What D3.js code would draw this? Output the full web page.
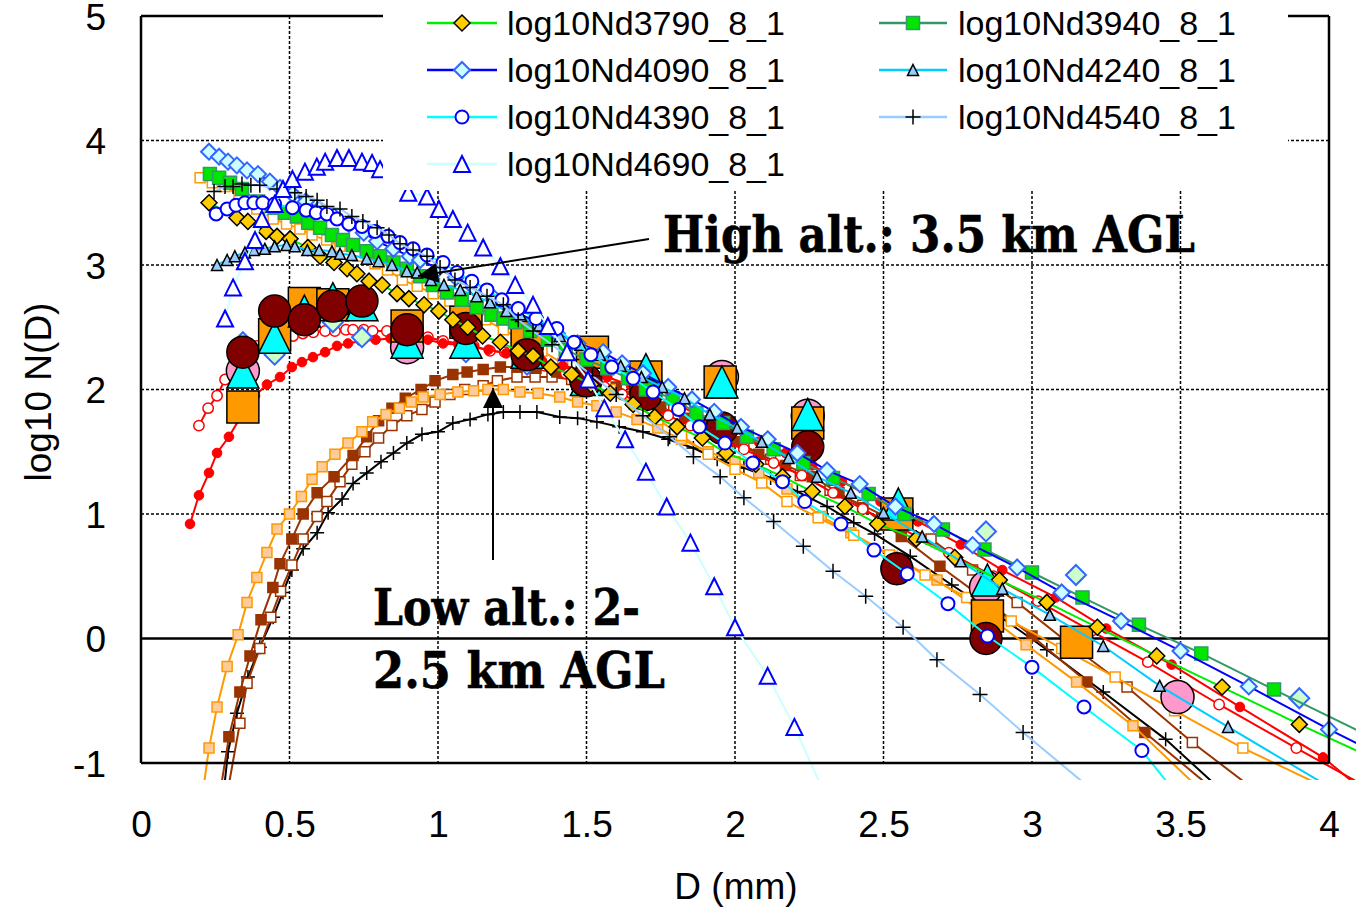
<!DOCTYPE html>
<html><head><meta charset="utf-8">
<script src="https://cdn.jsdelivr.net/npm/d3@7"></script>
<style>body{margin:0;background:#fff} svg{display:block}</style>
</head><body>
<svg id="c" width="1356" height="910"></svg>
<script>
// ---------- DATA ----------
const xTicks = [0, 0.5, 1, 1.5, 2, 2.5, 3, 3.5, 4];
const yTicks = [-1, 0, 1, 2, 3, 4, 5];
const legendNames = ["log10Nd3790_8_1","log10Nd3940_8_1","log10Nd4090_8_1","log10Nd4240_8_1","log10Nd4390_8_1","log10Nd4540_8_1","log10Nd4690_8_1"];

const s3790 = [[0.229,3.50],[0.323,3.38],[0.36,3.35],[0.421,3.27],[0.458,3.23],[0.502,3.21],[0.562,3.14],[0.603,3.07],[0.65,3.02],[0.694,2.97],[0.727,2.93],[0.768,2.87],[0.812,2.84],[0.862,2.77],[0.902,2.73],[0.953,2.68],[1.003,2.63],[1.05,2.56],[1.10,2.50],[1.15,2.43],[1.21,2.38],[1.27,2.31],[1.32,2.27],[1.38,2.18],[1.45,2.12],[1.515,2.04],[1.58,1.97],[1.657,1.88],[1.73,1.78],[1.805,1.70],[1.89,1.61],[1.97,1.49],[2.07,1.40],[2.16,1.30],[2.26,1.18],[2.37,1.06],[2.48,0.92],[2.61,0.80],[2.74,0.65],[2.89,0.47],[3.05,0.29],[3.22,0.09],[3.42,-0.14],[3.64,-0.39],[3.90,-0.69],[4.45,-1.29]];
const s3940 = [[0.232,3.73],[0.263,3.70],[0.30,3.66],[0.34,3.61],[0.394,3.51],[0.44,3.46],[0.485,3.42],[0.525,3.39],[0.563,3.34],[0.603,3.30],[0.643,3.24],[0.68,3.20],[0.714,3.16],[0.76,3.11],[0.805,3.07],[0.85,3.02],[0.895,2.97],[0.94,2.91],[0.983,2.84],[1.03,2.78],[1.08,2.72],[1.13,2.66],[1.18,2.60],[1.22,2.57],[1.26,2.54],[1.31,2.47],[1.37,2.40],[1.43,2.32],[1.50,2.24],[1.57,2.17],[1.64,2.09],[1.70,2.00],[1.79,1.93],[1.87,1.81],[1.96,1.73],[2.04,1.62],[2.13,1.52],[2.23,1.41],[2.33,1.29],[2.45,1.16],[2.57,1.00],[2.70,0.875],[2.84,0.715],[3.00,0.53],[3.17,0.33],[3.36,0.11],[3.57,-0.12],[3.815,-0.41],[4.57,-1.29]];
const s4090 = [[0.229,3.91],[0.263,3.87],[0.293,3.83],[0.323,3.80],[0.357,3.76],[0.394,3.73],[0.434,3.67],[0.468,3.62],[0.51,3.57],[0.555,3.51],[0.60,3.45],[0.65,3.39],[0.70,3.33],[0.75,3.26],[0.795,3.19],[0.85,3.13],[0.905,3.07],[0.94,3.04],[1.00,2.97],[1.06,2.90],[1.12,2.82],[1.19,2.73],[1.26,2.63],[1.33,2.54],[1.40,2.45],[1.47,2.37],[1.556,2.30],[1.62,2.21],[1.69,2.13],[1.775,2.02],[1.855,1.92],[1.93,1.82],[2.02,1.70],[2.11,1.60],[2.21,1.49],[2.31,1.35],[2.42,1.24],[2.54,1.06],[2.67,0.92],[2.80,0.75],[2.95,0.57],[3.10,0.37],[3.30,0.14],[3.50,-0.10],[3.73,-0.385],[4.00,-0.73],[4.47,-1.29]];
const s4240 = [[0.256,3.00],[0.29,3.04],[0.316,3.07],[0.35,3.10],[0.38,3.12],[0.417,3.13],[0.45,3.15],[0.49,3.16],[0.518,3.15],[0.56,3.12],[0.60,3.12],[0.643,3.11],[0.67,3.09],[0.71,3.08],[0.76,3.05],[0.80,3.03],[0.845,3.00],[0.895,2.95],[0.93,2.94],[0.976,2.88],[1.02,2.84],[1.075,2.80],[1.13,2.75],[1.175,2.70],[1.23,2.63],[1.28,2.59],[1.34,2.51],[1.41,2.43],[1.48,2.36],[1.545,2.28],[1.615,2.19],[1.685,2.10],[1.755,2.02],[1.83,1.93],[1.915,1.80],[2.007,1.69],[2.09,1.58],[2.18,1.45],[2.276,1.30],[2.39,1.17],[2.50,1.01],[2.63,0.82],[2.76,0.62],[2.90,0.40],[3.06,0.19],[3.24,-0.06],[3.43,-0.38],[3.66,-0.71],[4.07,-1.29]];
const s4390 = [[0.253,3.41],[0.29,3.45],[0.32,3.48],[0.35,3.50],[0.38,3.50],[0.41,3.50],[0.45,3.49],[0.51,3.46],[0.556,3.44],[0.59,3.42],[0.626,3.41],[0.66,3.37],[0.70,3.33],[0.744,3.31],[0.788,3.27],[0.832,3.23],[0.872,3.18],[0.916,3.13],[0.963,3.08],[1.017,3.02],[1.064,2.94],[1.114,2.87],[1.165,2.80],[1.215,2.72],[1.27,2.65],[1.33,2.57],[1.40,2.49],[1.458,2.38],[1.515,2.28],[1.585,2.18],[1.657,2.09],[1.724,1.98],[1.81,1.84],[1.88,1.70],[1.966,1.57],[2.06,1.41],[2.16,1.26],[2.235,1.10],[2.357,0.92],[2.468,0.71],[2.58,0.52],[2.717,0.28],[2.85,0.02],[3.00,-0.23],[3.175,-0.55],[3.37,-0.90],[3.50,-1.29]];
const s4540 = [[0.246,3.59],[0.283,3.63],[0.31,3.63],[0.34,3.65],[0.37,3.64],[0.40,3.64],[0.458,3.61],[0.518,3.58],[0.556,3.55],[0.593,3.52],[0.626,3.47],[0.67,3.45],[0.71,3.39],[0.747,3.35],[0.795,3.30],[0.835,3.24],[0.872,3.17],[0.916,3.12],[0.963,3.07],[1.007,2.98],[1.057,2.88],[1.108,2.82],[1.165,2.75],[1.22,2.68],[1.27,2.56],[1.32,2.47],[1.384,2.36],[1.45,2.24],[1.52,2.11],[1.60,1.96],[1.69,1.79],[1.78,1.62],[1.86,1.46],[1.95,1.30],[2.03,1.13],[2.13,0.94],[2.23,0.74],[2.33,0.54],[2.44,0.34],[2.566,0.09],[2.68,-0.17],[2.825,-0.45],[2.97,-0.755],[3.24,-1.29]];
const s4690 = [[0.283,2.57],[0.31,2.82],[0.35,3.03],[0.384,3.20],[0.407,3.37],[0.45,3.49],[0.478,3.61],[0.51,3.69],[0.552,3.75],[0.592,3.79],[0.62,3.83],[0.66,3.86],[0.70,3.86],[0.744,3.83],[0.778,3.82],[0.805,3.77],[0.85,3.68],[0.90,3.58],[0.963,3.55],[1.003,3.45],[1.05,3.37],[1.10,3.26],[1.152,3.14],[1.21,2.99],[1.26,2.84],[1.32,2.68],[1.37,2.51],[1.434,2.30],[1.505,2.08],[1.56,1.85],[1.63,1.60],[1.70,1.34],[1.77,1.06],[1.85,0.77],[1.93,0.42],[2.00,0.09],[2.11,-0.30],[2.20,-0.71],[2.31,-1.29]];

const sRedFilled = [[0.165,0.92],[0.195,1.15],[0.229,1.33],[0.256,1.49],[0.296,1.62],[0.343,1.81],[0.384,1.95],[0.424,2.04],[0.468,2.10],[0.508,2.18],[0.542,2.22],[0.579,2.26],[0.62,2.30],[0.66,2.35],[0.697,2.37],[0.74,2.39],[0.79,2.40],[0.84,2.41],[0.89,2.41],[0.93,2.41],[0.966,2.40],[1.017,2.37],[1.07,2.36],[1.12,2.34],[1.17,2.32],[1.23,2.29],[1.29,2.26],[1.35,2.23],[1.42,2.19],[1.50,2.15],[1.57,2.10],[1.65,2.03],[1.73,1.95],[1.82,1.86],[1.91,1.76],[2.00,1.67],[2.08,1.58],[2.17,1.49],[2.26,1.39],[2.36,1.26],[2.49,1.10],[2.616,0.94],[2.76,0.755],[2.90,0.55],[3.08,0.33],[3.25,0.08],[3.47,-0.21],[3.70,-0.55],[3.98,-0.955],[4.15,-1.29]];
const sRedOpen = [[0.195,1.71],[0.226,1.85],[0.256,1.95],[0.283,2.08],[0.316,2.22],[0.35,2.30],[0.39,2.35],[0.44,2.38],[0.48,2.41],[0.512,2.43],[0.545,2.45],[0.58,2.46],[0.62,2.47],[0.653,2.47],[0.69,2.48],[0.714,2.48],[0.75,2.48],[0.78,2.47],[0.828,2.47],[0.87,2.45],[0.92,2.43],[0.966,2.42],[1.017,2.39],[1.07,2.37],[1.12,2.35],[1.175,2.31],[1.225,2.30],[1.29,2.25],[1.36,2.19],[1.43,2.13],[1.50,2.07],[1.56,2.02],[1.62,1.96],[1.70,1.87],[1.775,1.79],[1.85,1.71],[1.94,1.62],[2.03,1.52],[2.13,1.41],[2.225,1.31],[2.33,1.17],[2.43,1.04],[2.53,0.92],[2.62,0.81],[2.72,0.69],[2.87,0.50],[3.02,0.30],[3.20,0.06],[3.39,-0.19],[3.63,-0.53],[3.89,-0.88],[4.20,-1.29]];
const sOrangeOpen = [[0.199,3.70],[0.24,3.66],[0.283,3.63],[0.33,3.56],[0.39,3.45],[0.445,3.37],[0.49,3.33],[0.535,3.29],[0.576,3.24],[0.625,3.20],[0.67,3.15],[0.73,3.07],[0.788,3.01],[0.83,2.96],[0.88,2.88],[0.93,2.83],[0.983,2.77],[1.04,2.71],[1.10,2.64],[1.16,2.56],[1.22,2.48],[1.28,2.40],[1.35,2.31],[1.42,2.21],[1.50,2.10],[1.58,2.00],[1.66,1.88],[1.74,1.76],[1.82,1.63],[1.91,1.48],[2.00,1.36],[2.09,1.25],[2.175,1.10],[2.28,0.97],[2.40,0.83],[2.52,0.67],[2.64,0.51],[2.78,0.33],[2.93,0.14],[3.10,-0.08],[3.28,-0.31],[3.48,-0.58],[3.71,-0.88],[4.07,-1.29]];
const sOrangeLight = [[0.205,-1.29],[0.229,-0.88],[0.256,-0.55],[0.29,-0.225],[0.327,0.03],[0.357,0.29],[0.39,0.49],[0.424,0.69],[0.458,0.88],[0.50,1.00],[0.54,1.14],[0.576,1.28],[0.61,1.38],[0.653,1.48],[0.697,1.57],[0.744,1.66],[0.78,1.74],[0.825,1.80],[0.87,1.85],[0.91,1.90],[0.95,1.94],[1.007,1.96],[1.067,1.98],[1.12,1.99],[1.168,2.00],[1.22,2.00],[1.276,1.98],[1.337,1.97],[1.41,1.94],[1.47,1.90],[1.535,1.87],[1.60,1.82],[1.67,1.76],[1.74,1.69],[1.82,1.60],[1.91,1.50],[2.00,1.42],[2.08,1.33],[2.175,1.20],[2.29,0.98],[2.39,0.85],[2.53,0.66],[2.68,0.47],[2.83,0.22],[2.98,-0.05],[3.15,-0.35],[3.34,-0.70],[3.60,-1.29]];
const sBrownFilled = [[0.263,-1.29],[0.296,-0.79],[0.333,-0.43],[0.367,-0.14],[0.404,0.15],[0.444,0.41],[0.468,0.60],[0.508,0.80],[0.546,1.00],[0.593,1.17],[0.65,1.30],[0.714,1.47],[0.76,1.62],[0.80,1.75],[0.845,1.85],[0.89,1.93],[0.943,2.00],[0.99,2.07],[1.05,2.12],[1.098,2.14],[1.152,2.16],[1.21,2.18],[1.266,2.18],[1.33,2.17],[1.40,2.14],[1.46,2.10],[1.53,2.06],[1.60,2.02],[1.67,1.95],[1.75,1.86],[1.83,1.77],[1.91,1.68],[2.00,1.58],[2.08,1.48],[2.17,1.39],[2.26,1.30],[2.35,1.17],[2.43,1.05],[2.56,0.82],[2.69,0.58],[2.85,0.30],[3.00,0.02],[3.185,-0.35],[3.38,-0.755],[3.65,-1.29]];
const sBrownOpen = [[0.287,-1.29],[0.333,-0.68],[0.357,-0.36],[0.40,-0.08],[0.437,0.17],[0.47,0.38],[0.508,0.59],[0.546,0.80],[0.593,0.98],[0.626,1.10],[0.67,1.26],[0.71,1.40],[0.754,1.50],[0.80,1.61],[0.845,1.71],[0.895,1.79],[0.946,1.84],[0.99,1.90],[1.04,1.96],[1.09,2.00],[1.152,2.03],[1.20,2.07],[1.266,2.10],[1.327,2.10],[1.384,2.10],[1.45,2.08],[1.52,2.05],[1.60,2.00],[1.68,1.93],[1.76,1.85],[1.85,1.76],[1.94,1.66],[2.03,1.55],[2.12,1.44],[2.22,1.31],[2.32,1.19],[2.43,1.07],[2.54,0.94],[2.66,0.80],[2.80,0.55],[2.95,0.29],[3.13,-0.05],[3.32,-0.39],[3.54,-0.835],[3.79,-1.29]];
const sBlackPlus = [[0.276,-1.29],[0.293,-0.91],[0.323,-0.60],[0.36,-0.31],[0.40,-0.07],[0.445,0.17],[0.478,0.37],[0.508,0.55],[0.546,0.72],[0.593,0.85],[0.63,1.01],[0.677,1.12],[0.714,1.245],[0.76,1.33],[0.808,1.42],[0.85,1.49],[0.895,1.57],[0.946,1.64],[1.00,1.66],[1.05,1.73],[1.108,1.76],[1.168,1.80],[1.22,1.82],[1.276,1.82],[1.333,1.82],[1.41,1.78],[1.47,1.77],[1.535,1.74],[1.61,1.70],[1.69,1.66],[1.775,1.60],[1.86,1.53],[1.94,1.44],[2.03,1.37],[2.12,1.29],[2.21,1.18],[2.31,1.06],[2.40,0.93],[2.47,0.84],[2.59,0.66],[2.73,0.43],[2.89,0.18],[3.05,-0.09],[3.24,-0.43],[3.45,-0.81],[3.67,-1.29]];

const bigGreen = [[0.343,2.38],[0.45,2.28],[0.646,2.54],[0.744,2.42],[0.896,2.34],[1.094,2.30],[1.30,2.20],[2.845,0.86],[3.148,0.51],[3.90,-0.48]];
const bigPink = [[0.343,2.15],[0.896,2.34],[1.956,2.10],[2.245,1.79],[2.545,1.00],[2.845,0.41],[3.49,-0.47]];
const bigOrange = [[0.343,1.86],[0.45,2.44],[0.55,2.69],[0.646,2.68],[0.896,2.51],[1.094,2.54],[1.30,2.45],[1.52,2.30],[1.70,2.10],[1.95,2.06],[2.245,1.73],[2.545,1.00],[2.85,0.18],[3.15,-0.03]];
const bigCyan = [[0.343,2.14],[0.45,2.42],[0.55,2.63],[0.646,2.73],[0.744,2.68],[0.896,2.38],[1.094,2.38],[1.30,2.30],[1.50,2.08],[1.70,2.16],[1.956,2.06],[2.245,1.80],[2.55,1.08],[2.85,0.47]];
const bigDarkRed = [[0.343,2.30],[0.45,2.63],[0.55,2.56],[0.646,2.67],[0.744,2.71],[0.896,2.48],[1.094,2.49],[1.30,2.28],[1.498,2.07],[1.70,1.96],[1.956,1.69],[2.245,1.54],[2.545,0.56],[2.845,0.00]];

// ---------- STYLES ----------
const ST = {
  s3790:{line:"#00ee00", shape:"diamond", size:8, fill:"#ffcc00", stroke:"#000", sw:1.5},
  s3940:{line:"#339966", shape:"square", size:6.5, fill:"#00e600", stroke:"#339966", sw:1.5},
  s4090:{line:"#0000ff", shape:"diamond", size:8, fill:"#ccffff", stroke:"#3366ff", sw:2},
  s4240:{line:"#00ccff", shape:"triangle", size:5.5, fill:"#99ccff", stroke:"#000", sw:1.5},
  s4390:{line:"#00ffff", shape:"circle", size:6.5, fill:"#fff", stroke:"#0000ff", sw:2},
  s4540:{line:"#99ccff", shape:"plus", size:7.5, fill:"none", stroke:"#000", sw:1.5},
  s4690:{line:"#ccffff", shape:"triangle", size:8, fill:"#fff", stroke:"#0000ff", sw:2},
  redF:{line:"#ff0000", shape:"circle", size:4.8, fill:"#ff0000", stroke:"#ff0000", sw:1},
  redO:{line:"#ff0000", shape:"circle", size:5.2, fill:"#fff", stroke:"#ff0000", sw:1.5},
  orgO:{line:"#ff9900", shape:"square", size:5, fill:"#fff", stroke:"#ff9900", sw:1.5},
  orgL:{line:"#ff9900", shape:"square", size:5, fill:"#ffcc99", stroke:"#ff9900", sw:1.5},
  brnF:{line:"#993300", shape:"square", size:5, fill:"#993300", stroke:"#993300", sw:1.5},
  brnO:{line:"#993300", shape:"square", size:5, fill:"#fff", stroke:"#993300", sw:1.5},
  blk:{line:"#000000", shape:"plus", size:7, fill:"none", stroke:"#000", sw:1.5},
  bGreen:{shape:"diamond", size:10, fill:"#ccffcc", stroke:"#3366ff", sw:2},
  bPink:{shape:"circle", size:16.5, fill:"#ff99cc", stroke:"#000", sw:1.5},
  bOrange:{shape:"square", size:16, fill:"#ff9900", stroke:"#000", sw:1.5},
  bCyan:{shape:"triangle", size:16, fill:"#00ffff", stroke:"#000", sw:1.5},
  bDark:{shape:"circle", size:16, fill:"#800000", stroke:"#000", sw:1.5}
};

// ---------- CHART ----------
const svg = d3.select("#c");
const W = 1356, H = 910;
const x = d3.scaleLinear().domain([0,4]).range([141,1329]);
const y = d3.scaleLinear().domain([-1,5]).range([763,16]);
const FONT = "'Liberation Sans', Arial, sans-serif";

svg.append("rect").attr("width",W).attr("height",H).attr("fill","#fff");
const defs = svg.append("defs");
defs.append("clipPath").attr("id","clip").append("rect").attr("x",0).attr("y",0).attr("width",W).attr("height",780);

// grid
const gv = svg.append("g");
gv.selectAll("line").data(xTicks.filter(t => t > 0 && t < 4)).join("line")
  .attr("x1", d => x(d)).attr("x2", d => x(d)).attr("y1", y(5)).attr("y2", y(-1))
  .attr("stroke","#000").attr("stroke-width",1.5).attr("stroke-dasharray","3,2");
const gh = svg.append("g");
gh.selectAll("line").data(yTicks.filter(t => t > -1 && t < 5)).join("line")
  .attr("x1", x(0)).attr("x2", x(4)).attr("y1", d => y(d)).attr("y2", d => y(d))
  .attr("stroke","#000").attr("stroke-width", d => d === 0 ? 2.5 : 1.5)
  .attr("stroke-dasharray", d => d === 0 ? null : "3,2");

function sym(type, s){
  switch(type){
    case "diamond": return `M0,${-s}L${s},0L0,${s}L${-s},0Z`;
    case "square": return `M${-s},${-s}H${s}V${s}H${-s}Z`;
    case "triangle": return `M0,${-s}L${s},${s}L${-s},${s}Z`;
    case "circle": return `M${s},0A${s},${s} 0 1,1 ${-s},0A${s},${s} 0 1,1 ${s},0Z`;
    case "plus": return `M${-s},0H${s}M0,${-s}V${s}`;
  }
}
const lineGen = d3.line().x(d => x(d[0])).y(d => y(d[1]));
const dataG = svg.append("g").attr("clip-path","url(#clip)");

function drawSeries(data, st, withLine){
  const g = dataG.append("g");
  if (withLine && st.line) g.append("path").datum(data).attr("d", lineGen)
    .attr("fill","none").attr("stroke", st.line).attr("stroke-width", 2);
  g.selectAll("path.m").data(data).join("path").attr("class","m")
    .attr("transform", d => `translate(${x(d[0])},${y(d[1])})`)
    .attr("d", sym(st.shape, st.size))
    .attr("fill", st.fill).attr("stroke", st.stroke).attr("stroke-width", st.sw);
}

// lower layer: unlabelled line series
[[sBlackPlus,"blk"],[sBrownOpen,"brnO"],[sBrownFilled,"brnF"],[sOrangeLight,"orgL"],
 [sOrangeOpen,"orgO"],[sRedOpen,"redO"],[sRedFilled,"redF"]].forEach(([d,k]) => drawSeries(d, ST[k], true));
// big markers
[[bigGreen,"bGreen"],[bigPink,"bPink"],[bigOrange,"bOrange"],[bigCyan,"bCyan"],[bigDarkRed,"bDark"]]
  .forEach(([d,k]) => drawSeries(d, ST[k], false));
// legend series
const legendSeries = [[s3790,"s3790"],[s3940,"s3940"],[s4090,"s4090"],[s4240,"s4240"],[s4390,"s4390"],[s4540,"s4540"],[s4690,"s4690"]];
legendSeries.forEach(([d,k]) => drawSeries(d, ST[k], true));

// plot frame
const fr = svg.append("g").attr("stroke","#000").attr("stroke-width",2.5);
fr.append("line").attr("x1",x(0)).attr("x2",x(0)).attr("y1",y(5)).attr("y2",y(-1));
fr.append("line").attr("x1",x(0)).attr("x2",x(4)).attr("y1",y(-1)).attr("y2",y(-1));
fr.append("line").attr("x1",x(4)).attr("x2",x(4)).attr("y1",y(5)).attr("y2",y(-1));
fr.append("line").attr("x1",x(0)).attr("x2",x(4)).attr("y1",y(5)).attr("y2",y(5));

// axes labels
const fmt = d => String(d);
const ax = svg.append("g").attr("transform",`translate(0,${y(-1)})`)
  .call(d3.axisBottom(x).tickValues(xTicks).tickSize(0).tickPadding(48).tickFormat(fmt));
ax.select(".domain").remove();
ax.selectAll("text").attr("font-family",FONT).attr("font-size",37).attr("fill","#000");
const ay = svg.append("g").attr("transform",`translate(${x(0)},0)`)
  .call(d3.axisLeft(y).tickValues(yTicks).tickSize(0).tickPadding(35).tickFormat(fmt));
ay.select(".domain").remove();
ay.selectAll("text").attr("font-family",FONT).attr("font-size",37).attr("fill","#000").attr("dy","0.36em");

svg.append("text").attr("x",736).attr("y",899).attr("text-anchor","middle")
  .attr("font-family",FONT).attr("font-size",37).text("D (mm)");
svg.append("text").attr("transform","translate(38,392) rotate(-90)").attr("text-anchor","middle")
  .attr("dominant-baseline","central").attr("font-family",FONT).attr("font-size",37).text("log10 N(D)");

// legend
const lg = svg.append("g");
lg.append("rect").attr("x",383).attr("y",0).attr("width",905).attr("height",190).attr("fill","#fff");
const cols = [{l1:427,l2:497,tx:507},{l1:879,l2:947,tx:958}];
const rows = [23,70,117,164];
legendNames.forEach((name,i) => {
  const c = cols[i % 2], r = rows[Math.floor(i / 2)];
  const st = ST[legendSeries[i][1]];
  lg.append("line").attr("x1",c.l1).attr("x2",c.l2).attr("y1",r).attr("y2",r)
    .attr("stroke",st.line).attr("stroke-width",2.5);
  lg.append("path").attr("transform",`translate(${(c.l1+c.l2)/2},${r})`).attr("d",sym(st.shape,st.size))
    .attr("fill",st.fill).attr("stroke",st.stroke).attr("stroke-width",st.sw);
  lg.append("text").attr("x",c.tx).attr("y",r+12).attr("font-family",FONT).attr("font-size",34).text(name);
});

// annotations
defs.append("marker").attr("id","ah1").attr("viewBox","0 0 10 10").attr("refX",10).attr("refY",5)
  .attr("markerUnits","userSpaceOnUse").attr("markerWidth",30).attr("markerHeight",20).attr("orient","auto")
  .append("path").attr("d","M0,0L10,5L0,10Z").attr("fill","#000");
defs.append("marker").attr("id","ah2").attr("viewBox","0 0 10 10").attr("refX",10).attr("refY",5)
  .attr("markerUnits","userSpaceOnUse").attr("markerWidth",22).attr("markerHeight",20).attr("orient","auto")
  .append("path").attr("d","M0,0L10,5L0,10Z").attr("fill","#000");
svg.append("line").attr("x1",649).attr("y1",239).attr("x2",418).attr("y2",276)
  .attr("stroke","#000").attr("stroke-width",2).attr("marker-end","url(#ah1)");
svg.append("line").attr("x1",493).attr("y1",560).attr("x2",493).attr("y2",388)
  .attr("stroke","#000").attr("stroke-width",2).attr("marker-end","url(#ah2)");
const SERIF = "'DejaVu Serif', 'Liberation Serif', serif";
function ann(t, x0, y0, len){
  svg.append("text").attr("x",x0).attr("y",y0).attr("font-family",SERIF).attr("font-weight","bold")
    .attr("font-size",51).attr("stroke","#000").attr("stroke-width",0.6)
    .attr("textLength",len).attr("lengthAdjust","spacingAndGlyphs").text(t);
}
ann("High alt.: 3.5 km AGL", 663, 252, 532);
ann("Low alt.: 2-", 373, 625, 267);
ann("2.5 km AGL", 373, 688, 292);
</script>
</body></html>
